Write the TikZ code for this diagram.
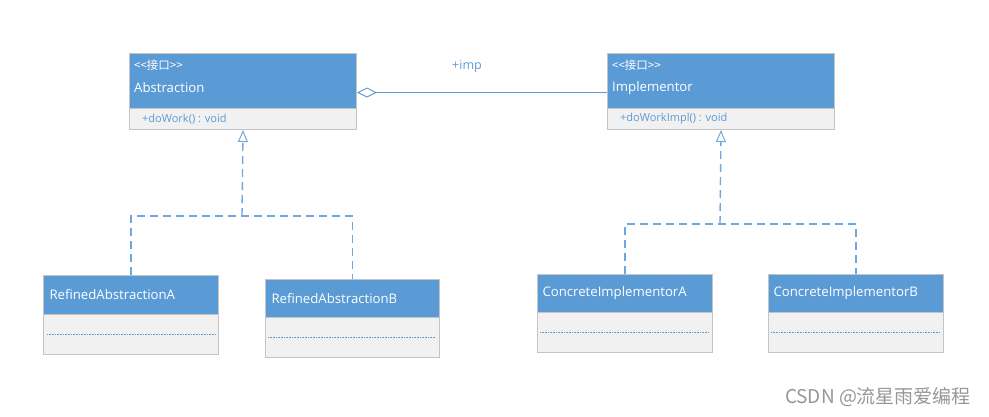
\documentclass[tikz,border=0pt]{standalone}
\usepackage{fontspec}
\setmainfont{Open Sans}
\newfontfamily\umlfont{Open Sans}
\newfontfamily\cjk{Noto Sans CJK SC}
\usetikzlibrary{arrows.meta}
\usetikzlibrary{positioning}
\definecolor{umlblue}{RGB}{91,155,213}
\definecolor{boxgray}{RGB}{196,196,196}
\definecolor{bodygray}{RGB}{241,241,241}
\definecolor{dashblue}{RGB}{110,168,222}
\definecolor{markgray}{RGB}{150,150,150}

\begin{document}
\begin{tikzpicture}[x=1pt, y=-1pt,
    head/.style={draw=boxgray, fill=umlblue, text=white, anchor=north west,
      inner sep=0pt, line width=1pt, font=\umlfont\fontsize{13.2}{15}\selectfont},
    body/.style={draw=boxgray, fill=bodygray, anchor=north west,
      inner sep=0pt, line width=1pt},
    stereo/.style={text=white, anchor=west, inner sep=0pt,
      font=\cjk\fontsize{11.5}{13}\selectfont},
    cname/.style={text=white, anchor=west, inner sep=0pt,
      font=\umlfont\fontsize{13.2}{15}\selectfont},
    op/.style={text=umlblue, anchor=west, inner sep=0pt,
      font=\umlfont\fontsize{11}{12}\selectfont},
    sepline/.style={umlblue, line width=0.6pt, dash pattern=on 1pt off 0.6pt},
    aggr/.style={umlblue, line width=1pt, -{Diamond[open, length=20pt, width=10pt]}},
    realize/.style={dashblue, line width=1.4pt, dash pattern=on 8pt off 5pt,
      -{Triangle[open, length=12pt, width=10pt, line width=1pt]}},
    dashline/.style={dashblue, line width=1.4pt, dash pattern=on 8pt off 5pt}]
  \useasboundingbox (0,0) rectangle (989,416);

  % interfaces
  \node [body, minimum width=227pt, minimum height=21pt] (absbody) at (129,108) {};
  \node [head, minimum width=227pt, minimum height=55pt] (abs) at (129,53) {};
  \node [stereo] (absst) at ([xshift=5pt, yshift=-12pt]abs.north west) {<<接口>>};
  \node [cname] (absname) at ([xshift=5pt, yshift=-35pt]abs.north west) {Abstraction};
  \node [op] (absop) at ([xshift=13pt]absbody.west) {+doWork() : void};

  \node [body, minimum width=227pt, minimum height=21pt] (implbody) at (607,108) {};
  \node [head, minimum width=227pt, minimum height=55pt] (impl) at (607,53) {};
  \node [stereo] (implst) at ([xshift=5pt, yshift=-12pt]impl.north west) {<<接口>>};
  \node [cname] (implname) at ([xshift=5pt, yshift=-35pt]impl.north west) {Implementor};
  \node [op] (implop) at ([xshift=13pt]implbody.west) {+doWorkImpl() : void};

  % refined abstractions
  \node [body, minimum width=175pt, minimum height=40pt] (refAbody) at (43,314) {};
  \node [head, minimum width=175pt, minimum height=39pt, text width=163pt, align=left] (refA) at (43,275) {RefinedAbstractionA};
  \node [body, minimum width=174pt, minimum height=40pt] (refBbody) at (265,317) {};
  \node [head, minimum width=174pt, minimum height=38pt, text width=162pt, align=left] (refB) at (265,279) {RefinedAbstractionB};

  % concrete implementors
  \node [body, minimum width=175pt, minimum height=40pt] (conAbody) at (537,312) {};
  \node [head, minimum width=175pt, minimum height=38pt, text width=165pt, align=left] (conA) at (537,274) {ConcreteImplementorA};
  \node [body, minimum width=175pt, minimum height=40pt] (conBbody) at (768,312) {};
  \node [head, minimum width=175pt, minimum height=38pt, text width=165pt, align=left] (conB) at (768,274) {ConcreteImplementorB};

  \draw [sepline] ([xshift=4pt]refAbody.west) -- ([xshift=-3pt]refAbody.east);
  \draw [sepline] ([xshift=3pt]refBbody.west) -- ([xshift=-4pt]refBbody.east);
  \draw [sepline] ([xshift=3pt]conAbody.west) -- ([xshift=-4pt]conAbody.east);
  \draw [sepline] ([xshift=3pt]conBbody.west) -- ([xshift=-4pt]conBbody.east);

  % association
  \draw [aggr] ([yshift=-11.5pt]impl.west) -- node [pos=0.56, above=20pt, inner sep=0pt, text=umlblue,
    font=\umlfont\fontsize{12.5}{14}\selectfont] (implbl) {+imp} ([yshift=-11.5pt]abs.east);

  % realizations
  \coordinate (joinL) at (242,216);
  \coordinate (joinR) at (720,224);
  \draw [dashline] (refA.north) |- (joinL) -| (refB.north);
  \draw [realize] (joinL) -- (absbody.south);
  \draw [dashline] (conA.north) |- (joinR) -| (conB.north);
  \draw [realize] (joinR) -- (implbody.south);

  \node [text=markgray, font=\cjk\fontsize{19}{21}\selectfont, inner sep=0pt] (mark) at (878,397) {CSDN @流星雨爱编程};
\end{tikzpicture}
\end{document}
